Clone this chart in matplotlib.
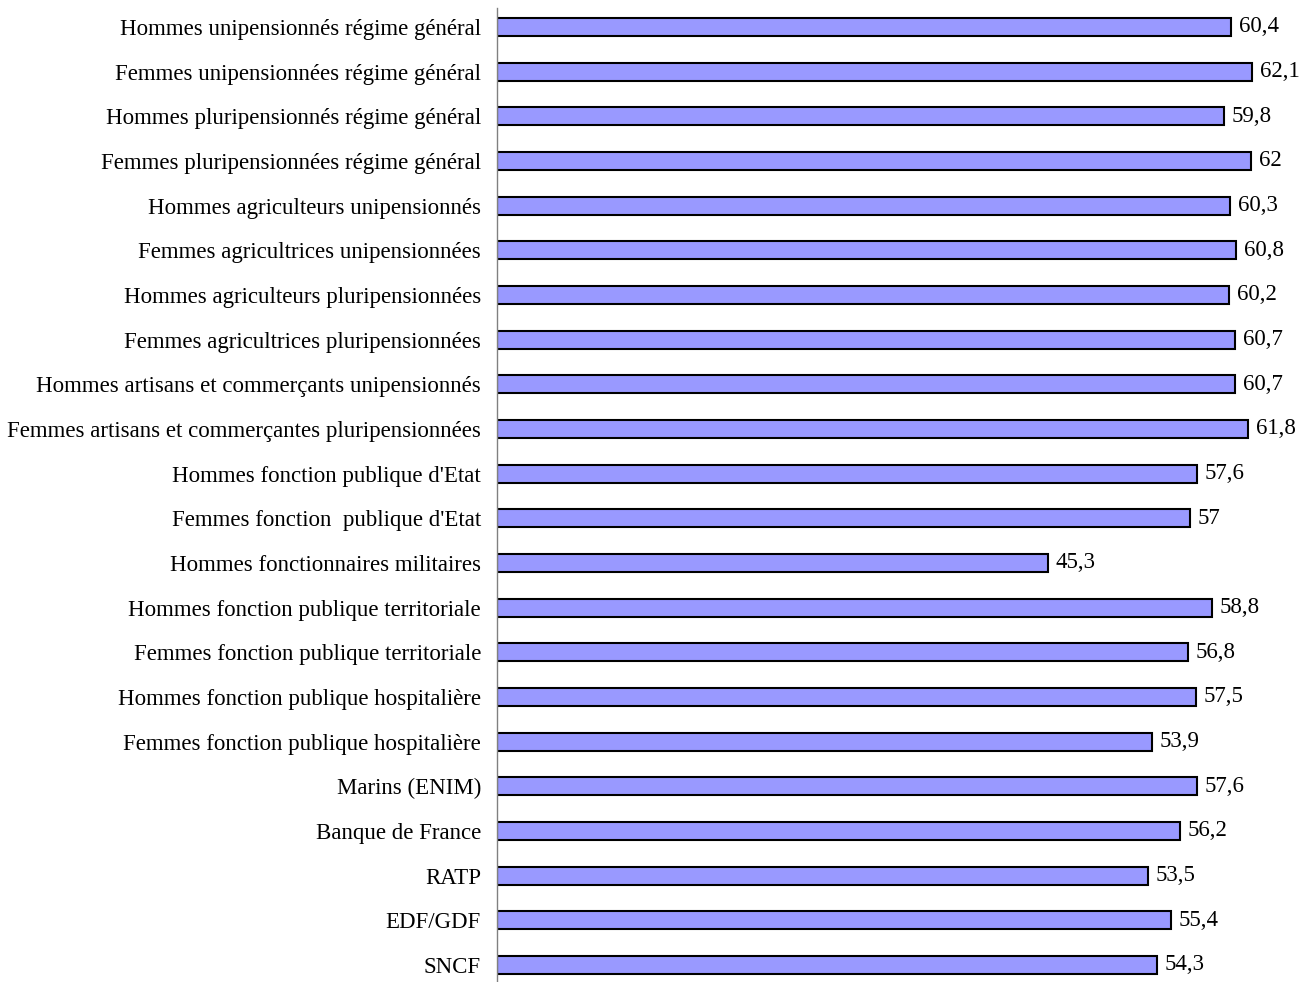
import numpy as np
import matplotlib.pyplot as plt

plt.rcParams['font.family'] = ['Liberation Serif', 'DejaVu Serif']

categories = [
    "Hommes unipensionnés régime général",
    "Femmes unipensionnées régime général",
    "Hommes pluripensionnés régime général",
    "Femmes pluripensionnées régime général",
    "Hommes agriculteurs unipensionnés",
    "Femmes agricultrices unipensionnées",
    "Hommes agriculteurs pluripensionnées",
    "Femmes agricultrices pluripensionnées",
    "Hommes artisans et commerçants unipensionnés",
    "Femmes artisans et commerçantes pluripensionnées",
    "Hommes fonction publique d'Etat",
    "Femmes fonction  publique d'Etat",
    "Hommes fonctionnaires militaires",
    "Hommes fonction publique territoriale",
    "Femmes fonction publique territoriale",
    "Hommes fonction publique hospitalière",
    "Femmes fonction publique hospitalière",
    "Marins (ENIM)",
    "Banque de France",
    "RATP",
    "EDF/GDF",
    "SNCF",
]
values = [60.4, 62.1, 59.8, 62.0, 60.3, 60.8, 60.2, 60.7, 60.7, 61.8,
          57.6, 57.0, 45.3, 58.8, 56.8, 57.5, 53.9, 57.6, 56.2, 53.5,
          55.4, 54.3]


def fr(v):
    s = f"{v:.1f}".replace(".", ",")
    return s[:-2] if s.endswith(",0") else s


fig = plt.figure(figsize=(13.1, 9.82), dpi=100)
ax = fig.add_axes([0.3794, -0.0054, 0.6126, 0.99725])

y = np.arange(len(categories))
ax.barh(y, values, height=0.4, color="#9999FF", edgecolor="black", linewidth=1.5)

for yi, v in zip(y, values):
    ax.annotate(fr(v), (v, yi), xytext=(5.5, 0), textcoords="offset points",
                va="center", ha="left", fontsize=16.5)

ax.set_yticks(y)
ax.set_yticklabels(categories, fontsize=16.5)
ax.tick_params(axis="y", length=0, pad=11.5)
ax.set_ylim(len(categories) - 0.5, -0.425)
ax.set_xlim(0, 66)
ax.set_xticks([])
for side in ["top", "right", "bottom"]:
    ax.spines[side].set_visible(False)
ax.spines["left"].set_color("#808080")
ax.spines["left"].set_linewidth(1.0)

fig.savefig("out.png", dpi=100)
